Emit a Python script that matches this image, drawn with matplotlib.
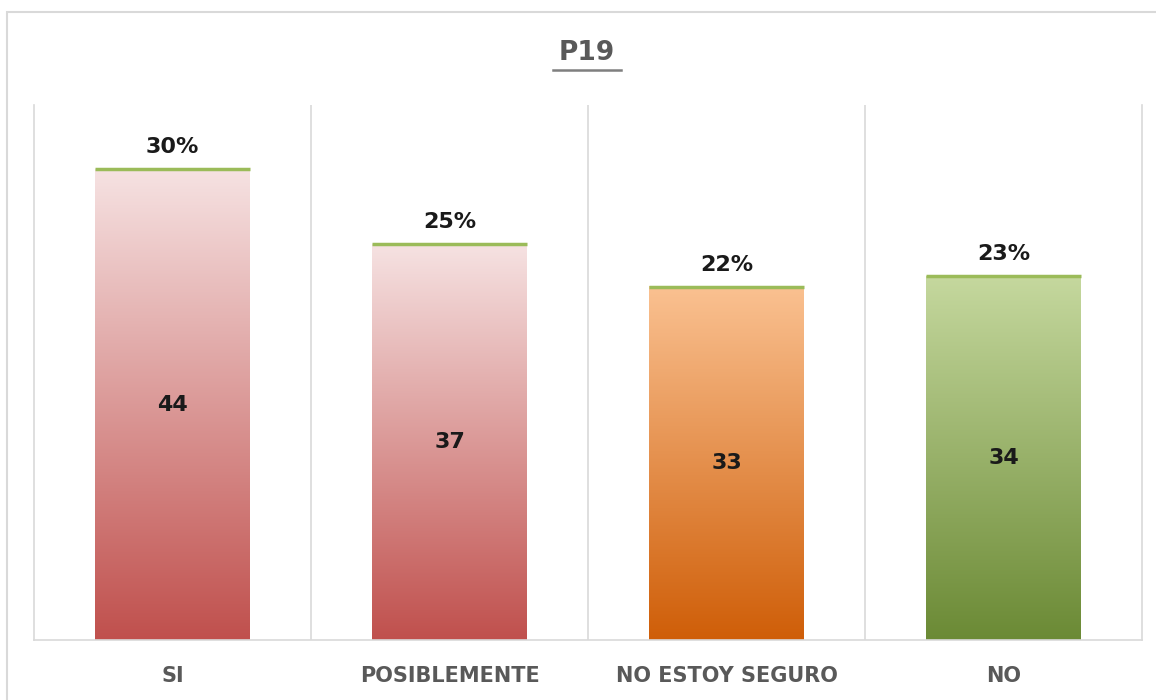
import matplotlib
matplotlib.use("Agg")
import matplotlib.pyplot as plt
import numpy as np
from matplotlib.colors import to_rgb
from matplotlib.patches import Rectangle
from matplotlib.lines import Line2D

categories = ["SI", "POSIBLEMENTE", "NO ESTOY SEGURO", "NO"]
counts = [44, 37, 33, 34]
percents = ["30%", "25%", "22%", "23%"]
top_colors = ["#f6e2e2", "#f6e2e2", "#fac191", "#c5d89e"]
bottom_colors = ["#c0504d", "#c0504d", "#cf5e08", "#6b8a35"]

fig = plt.figure(figsize=(11.56, 7.0), dpi=100)
ax = fig.add_axes([34 / 1156, 60 / 700, 1108 / 1156, 535 / 700])

x = np.arange(len(categories))
width = 0.556
bars = ax.bar(x, counts, width=width, color="none", edgecolor="none")

# vertical gradient inside each bar
for bar, c_top, c_bot in zip(bars, top_colors, bottom_colors):
    t = np.linspace(0, 1, 256)[:, None]
    top = np.array(to_rgb(c_top))
    bot = np.array(to_rgb(c_bot))
    grad = (top * (1 - t) + bot * t).reshape(256, 1, 3)
    x0 = bar.get_x()
    h = bar.get_height()
    ax.imshow(grad, extent=[x0, x0 + bar.get_width(), 0, h],
              aspect="auto", origin="upper", zorder=2, interpolation="bilinear")
    ax.hlines(h, x0, x0 + bar.get_width(), color="#9bbb59", linewidth=2.5, zorder=3)

for xi, c, p in zip(x, counts, percents):
    ax.text(xi, c + 1.1, p, ha="center", va="bottom", fontsize=16,
            fontweight="bold", color="#1a1a1a", zorder=4)
    ax.text(xi, c / 2, str(c), ha="center", va="center", fontsize=16,
            fontweight="bold", color="#1a1a1a", zorder=4)

ax.set_xlim(-0.5, len(categories) - 0.5)
ax.set_ylim(0, 50)
ax.set_yticks([])
ax.set_xticks(x)
ax.set_xticklabels(categories, fontsize=15, fontweight="bold", color="#595959")
ax.tick_params(axis="x", length=0, pad=19)

for xb in np.arange(0.5, len(categories) - 0.5, 1):
    ax.axvline(xb, color="#d9d9d9", linewidth=1.2, zorder=1)

ax.spines["top"].set_visible(False)
for s in ["left", "right", "bottom"]:
    ax.spines[s].set_color("#d9d9d9")
    ax.spines[s].set_linewidth(1.2)

# outer chart frame
fig.patches.append(Rectangle((7 / 1156, -0.01), 1.0, 1 - 12 / 700 + 0.01,
                             transform=fig.transFigure, fill=False,
                             edgecolor="#d9d9d9", linewidth=1.5))

title = fig.text(587 / 1156, 1 - 53 / 700, "P19", ha="center", va="center",
                 fontsize=19, fontweight="bold", color="#595959")
fig.canvas.draw()
bb = title.get_window_extent().transformed(fig.transFigure.inverted())
pad = 6 / 1156
fig.lines.append(Line2D([bb.x0 - pad, bb.x1 + pad], [bb.y0 - 0.006, bb.y0 - 0.006],
                        transform=fig.transFigure, color="#7f7f7f", linewidth=1.8))

fig.savefig("out.png", dpi=100)
